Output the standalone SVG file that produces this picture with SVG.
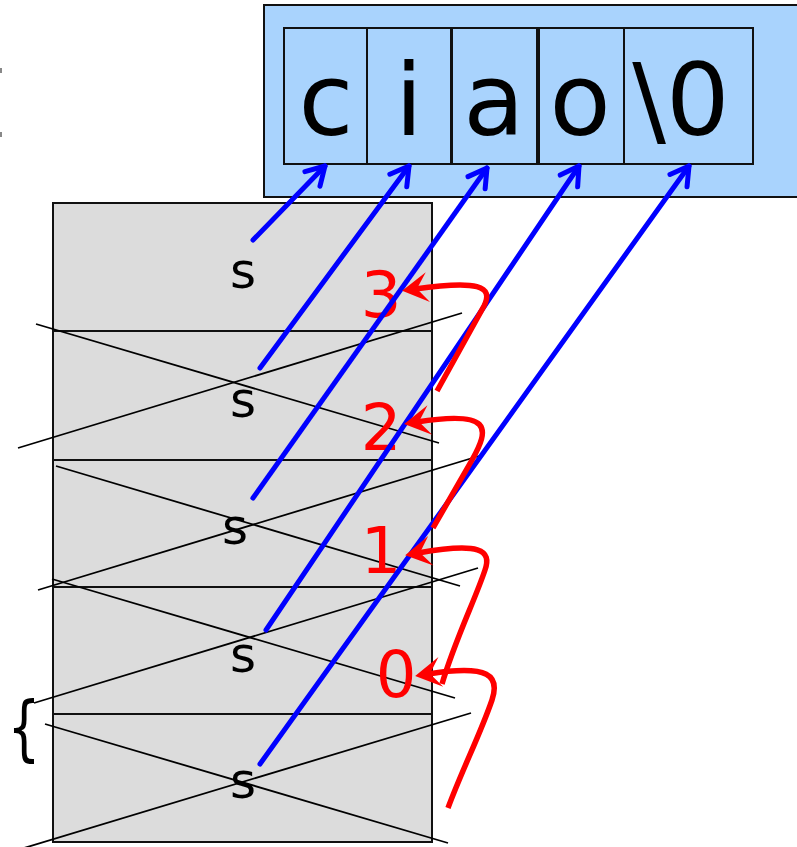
<svg xmlns="http://www.w3.org/2000/svg" width="797" height="847" viewBox="0 0 797 847">
<style>
.box{stroke:#111;stroke-width:2}
.blue{fill:#a9d3fd}
.gray{fill:#dcdcdc}
.big{font-family:"DejaVu Sans",sans-serif;font-size:100px;fill:#000;text-anchor:middle}
.s{font-family:"DejaVu Sans",sans-serif;font-size:50px;fill:#000;text-anchor:middle}
.num{font-family:"DejaVu Sans",sans-serif;font-size:64px;fill:#ff0000;text-anchor:middle}
.x{stroke:#000;stroke-width:1.8;fill:none}
.bl{stroke:#0000ff;stroke-width:5;fill:none;stroke-linecap:round;marker-end:url(#ab)}
.rd{stroke:#ff0000;stroke-width:5.5;fill:none;marker-end:url(#ar)}
</style>
<defs>
<marker id="ab" markerUnits="userSpaceOnUse" viewBox="-25 -15 30 30" refX="0" refY="0" markerWidth="30" markerHeight="30" orient="auto" overflow="visible">
<path d="M-18,-10.5 L0,0 L-18,10.5" fill="none" stroke="#0000ff" stroke-width="5" stroke-linecap="round" stroke-linejoin="round"/>
</marker>
<marker id="ar" markerUnits="userSpaceOnUse" viewBox="-30 -15 45 30" refX="0" refY="0" markerWidth="45" markerHeight="30" orient="auto" overflow="visible">
<path d="M13,0 L-13,-15 L-2,0 L-13,15 Z" fill="#ff0000"/>
</marker>
</defs>

<g id="left-marks">
<rect x="0" y="68" width="2" height="5" fill="#888"/>
<rect x="0" y="132" width="2" height="5" fill="#888"/>
</g>

<g id="string-box">
<rect class="box blue" x="264" y="5" width="540" height="192"/>
</g>
<g id="cell-c"><rect class="box blue" x="284" y="28" width="83" height="136"/><text class="big" x="326" y="135">c</text></g>
<g id="cell-i"><rect class="box blue" x="367" y="28" width="84" height="136"/><text class="big" x="409" y="135">i</text></g>
<g id="cell-a"><rect class="box blue" x="452" y="28" width="85" height="136"/><text class="big" x="494" y="135">a</text></g>
<g id="cell-o"><rect class="box blue" x="539" y="28" width="85" height="136"/><text class="big" x="580" y="135">o</text></g>
<g id="cell-null"><rect class="box blue" x="624" y="28" width="129" height="136"/><text class="big" x="681" y="135">\0</text></g>

<g id="frame-1"><rect class="box gray" x="53" y="203" width="379" height="128"/><text class="s" x="243" y="288">s</text></g>
<g id="frame-2"><rect class="box gray" x="53" y="331" width="379" height="129"/><text class="s" x="243" y="417">s</text></g>
<g id="frame-3"><rect class="box gray" x="53" y="460" width="379" height="127"/><text class="s" x="235" y="544">s</text></g>
<g id="frame-4"><rect class="box gray" x="53" y="587" width="379" height="127"/><text class="s" x="243" y="672">s</text></g>
<g id="frame-5"><rect class="box gray" x="53" y="714" width="379" height="128"/><text class="s" x="243" y="798">s</text></g>

<g id="brace"><text transform="translate(24,752) scale(0.72,1)" x="0" y="0" font-family="DejaVu Sans, sans-serif" font-size="72" text-anchor="middle" fill="#000">{</text></g>

<g id="crosses">
<line class="x" x1="36" y1="324" x2="439" y2="443"/>
<line class="x" x1="18" y1="448" x2="462" y2="313"/>
<line class="x" x1="56" y1="466" x2="460" y2="586"/>
<line class="x" x1="38" y1="590" x2="479" y2="456"/>
<line class="x" x1="52" y1="579" x2="455" y2="698"/>
<line class="x" x1="34" y1="703" x2="478" y2="568"/>
<line class="x" x1="45" y1="724" x2="448" y2="843"/>
<line class="x" x1="24" y1="848" x2="471" y2="713"/>
</g>

<g id="labels">
<text class="num" x="381" y="317">3</text>
<text class="num" x="381" y="450">2</text>
<text class="num" x="381" y="573">1</text>
<text class="num" x="396" y="697">0</text>
</g>

<g id="connectors">
<path class="bl" d="M253,240 L325,166"/>
<path class="bl" d="M260,368 L409,166"/>
<path class="bl" d="M253,498 L487,168"/>
<path class="bl" d="M266,630 L579,166"/>
<path class="bl" d="M260,764 L689,166"/>
<path class="rd" d="M437,391 L484,306 C494,286 478,280 415,289"/>
<path class="rd" d="M433,528 L472,460 C490,428 492,410 417,422"/>
<path class="rd" d="M442,684 C455,640 475,600 485,570 C492,550 480,542 418,553"/>
<path class="rd" d="M448,808 C462,770 480,735 492,700 C500,676 490,664 428,674"/>
</g>
</svg>
